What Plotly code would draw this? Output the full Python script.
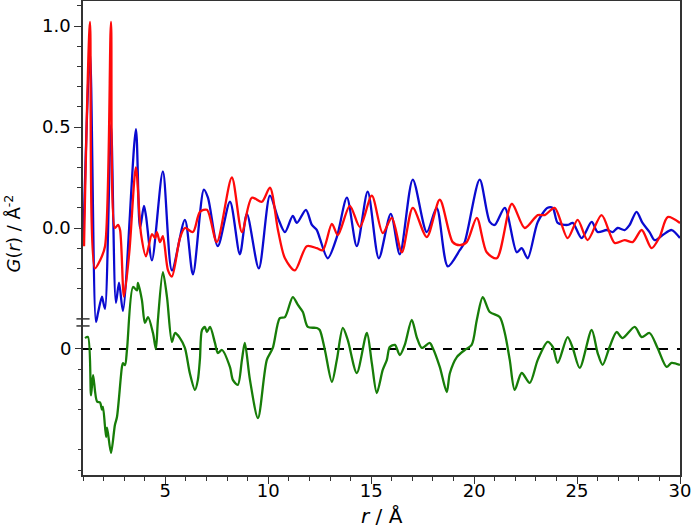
import plotly.graph_objects as go

# Upper panel: two G(r) curves (red, blue), lower panel: difference (green)
r_red = [1.05, 1.34, 1.58, 1.83, 2.07, 2.36, 2.55, 2.70, 2.80, 2.99, 3.25, 3.57,
         3.82, 4.06, 4.35, 4.50, 4.59, 4.74, 4.88, 5.13, 5.32, 5.71, 5.95, 6.34,
         6.68, 7.02, 7.50, 8.23, 8.72, 9.20, 9.69, 10.08, 10.47, 10.81, 11.29,
         11.87, 12.36, 12.65, 13.09, 13.38, 13.96, 14.45, 15.03, 15.56, 16.00,
         16.49, 17.02, 17.70, 18.33, 18.96, 19.30, 19.64, 20.13, 20.61, 21.10,
         21.83, 22.46, 23.09, 23.43, 23.91, 24.54, 25.03, 25.51, 26.19, 26.83,
         27.31, 27.70, 28.14, 28.62, 29.01, 29.40, 30.00]
g_red = [-0.09, 1.02, -0.20, -0.16, -0.09, 1.02, 0.00, 0.015, -0.01, -0.34, -0.12, 0.30,
         -0.03, -0.14, -0.03, -0.05, -0.02, -0.07, -0.04, -0.21, -0.24, -0.05, 0.00, -0.02,
         0.08, 0.09, -0.07, 0.25, -0.02, 0.15, 0.13, 0.20, -0.01, -0.15, -0.21,
         -0.09, -0.10, -0.11, 0.02, -0.035, 0.11, 0.005, 0.16, -0.025, 0.05,
         -0.12, 0.10, -0.045, 0.14, -0.07, -0.085, -0.07, 0.05, -0.12, -0.15,
         0.12, 0.00, 0.064, 0.064, 0.10, -0.05, 0.04, -0.06, 0.064, -0.074,
         -0.06, -0.07, -0.01, -0.10, -0.045, 0.054, 0.025]

r_blue = [1.02, 1.34, 1.63, 1.73, 1.92, 1.97, 2.07, 2.36, 2.60, 2.75, 2.94, 3.57,
          3.77, 3.96, 4.06, 4.35, 4.88, 5.32, 5.95, 6.34, 6.87, 7.07, 7.55, 8.14,
          8.62, 8.96, 9.54, 10.08, 10.47, 10.81, 11.19, 11.39, 11.83, 12.12, 12.36,
          12.50, 12.89, 13.33, 13.82, 14.30, 14.83, 15.37, 15.95, 16.39, 17.02,
          17.70, 18.18, 18.72, 19.30, 19.54, 20.27, 20.76, 21.00, 21.49, 22.07,
          22.31, 22.60, 23.09, 23.57, 23.82, 24.06, 24.54, 24.79, 25.22, 25.71,
          26.00, 26.44, 26.73, 26.97, 27.31, 27.55, 27.89, 28.18, 28.52, 28.77,
          29.16, 29.59, 30.00]
g_blue = [-0.05, 0.87, -0.465, -0.42, -0.34, -0.36, -0.40, 0.51, -0.37, -0.27, -0.41, 0.49,
          0.00, 0.11, 0.06, -0.16, 0.28, -0.21, 0.04, -0.23, 0.19, 0.15, -0.09, 0.13,
          -0.13, 0.07, -0.20, 0.16, 0.05, -0.02, 0.06, 0.025, 0.09, 0.015, -0.01,
          -0.05, -0.15, -0.045, 0.15, -0.09, 0.18, -0.15, 0.07, -0.13, 0.24,
          -0.02, 0.10, -0.19, -0.11, -0.07, 0.24, 0.03, 0.015, 0.10, -0.12,
          -0.10, -0.15, 0.03, 0.10, 0.099, 0.025, 0.015, 0.025, -0.05, 0.03,
          -0.02, -0.01, -0.02, 0.00, -0.01, 0.015, 0.08, 0.025, -0.02, -0.06,
          -0.035, -0.01, -0.05]

r_diff = [1.10, 1.24, 1.39, 1.49, 1.68, 1.83, 1.92, 1.97, 2.12, 2.17, 2.36, 2.55,
          2.65, 2.89, 2.94, 3.04, 3.14, 3.43, 3.62, 3.67, 3.86, 4.01, 4.16, 4.40,
          4.54, 4.64, 4.88, 5.08, 5.32, 5.47, 5.71, 5.95, 6.19, 6.44, 6.58, 6.68,
          6.78, 6.92, 7.02, 7.17, 7.41, 7.55, 7.75, 8.14, 8.28, 8.52, 8.72, 8.86,
          9.11, 9.50, 9.93, 10.22, 10.56, 10.81, 11.19, 11.44, 11.68, 11.92, 12.36,
          12.50, 12.75, 13.09, 13.33, 13.62, 13.86, 14.30, 14.79, 15.03, 15.27,
          15.56, 15.76, 15.90, 16.15, 16.39, 16.63, 16.97, 17.21, 17.46, 17.84,
          17.99, 18.33, 18.67, 18.82, 19.16, 19.54, 19.88, 20.13, 20.42, 20.76,
          21.24, 21.49, 21.73, 21.97, 22.31, 22.70, 23.09, 23.57, 23.82, 24.06,
          24.54, 24.79, 25.13, 25.71, 26.00, 26.24, 26.58, 26.92, 27.21, 27.80,
          28.14, 28.52, 28.91, 29.35, 29.59, 30.00]
g_diff = [0.054, 0.06, -0.23, -0.13, -0.26, -0.265, -0.30, -0.287, -0.436, -0.39, -0.515, -0.376,
          -0.337, -0.09, -0.07, -0.08, 0.00, 0.307, 0.29, 0.327, 0.243, 0.129, 0.158, 0.079,
          0.00, 0.144, 0.381, 0.257, 0.035, 0.079, 0.054, 0.005, -0.12, -0.203, -0.153, -0.05,
          0.094, 0.109, 0.084, 0.109, 0.03, -0.02, -0.005, -0.09, -0.153, -0.178, -0.054, 0.03,
          -0.153, -0.342, -0.054, 0.005, 0.153, 0.158, 0.257, 0.218, 0.183, 0.109, 0.104,
          0.094, -0.005, -0.163, -0.054, 0.104, 0.045, -0.119, 0.079, -0.07, -0.218,
          -0.104, -0.054, 0.01, 0.02, -0.03, 0.02, 0.144, 0.059, 0.005, 0.03,
          0.005, -0.089, -0.213, -0.12, -0.04, -0.005, 0.02, 0.144, 0.257, 0.183,
          0.158, 0.079, -0.054, -0.203, -0.119, -0.168, -0.054, 0.035, 0.01, -0.069,
          0.059, 0.005, -0.094, 0.094, -0.02, -0.079, 0.01, 0.084, 0.054, 0.109,
          0.059, 0.079, 0.005, -0.089, -0.069, -0.079]

x_major = [5, 10, 15, 20, 25, 30]
x_minor = [v for v in range(1, 31) if v % 5 != 0]
upper_major = [0.0, 0.5, 1.0]
upper_labels = ["0.0", "0.5", "1.0"]
upper_minor = [-0.3, -0.2, -0.1, 0.1, 0.2, 0.3, 0.4, 0.6, 0.7, 0.8, 0.9, 1.1]
lower_major = [0.0]
lower_labels = ["0"]
lower_major_unlabelled = [-0.4]
lower_minor = [-0.1, -0.2, -0.3, -0.5, -0.6]

FONT = "DejaVu Sans"
AXIS_COLOR = "#333333"
UPPER_RANGE = [-1.223, 1.124]
LOWER_RANGE = [-0.624, 1.723]
LW = 2.3

fig = go.Figure()

fig.add_trace(go.Scatter(x=r_blue, y=g_blue, mode="lines", name="blue",
                         line=dict(color="#0a0ad0", width=LW, shape="spline", smoothing=0.8)))
fig.add_trace(go.Scatter(x=r_red, y=g_red, mode="lines", name="red",
                         line=dict(color="#ff0a0a", width=LW, shape="spline", smoothing=0.8)))
fig.add_trace(go.Scatter(x=r_diff, y=g_diff, mode="lines", name="diff", yaxis="y2",
                         line=dict(color="#177d08", width=LW, shape="spline", smoothing=0.8)))

# zero line of the difference curve
fig.add_shape(type="line", xref="x domain", x0=0, x1=1, yref="y2", y0=0, y1=0,
              line=dict(color="black", width=2, dash="dash"), layer="below")

# axis break mark on the left spine
for yb in [-0.45, -0.485]:
    fig.add_shape(type="line", xref="paper", x0=-0.011, x1=0.011, yref="y", y0=yb, y1=yb,
                  line=dict(color=AXIS_COLOR, width=1.5))

tick_font = dict(family=FONT, size=18, color="black")
minor_style = dict(ticks="outside", ticklen=4, tickwidth=1, tickcolor=AXIS_COLOR)

fig.update_layout(
    width=692, height=527,
    margin=dict(l=83, r=12, t=1, b=52, autoexpand=False),
    plot_bgcolor="white", paper_bgcolor="white",
    showlegend=False,
    font=dict(family=FONT, color="black"),
    xaxis=dict(
        range=[1, 30], tickvals=x_major, ticks="outside", ticklen=7, tickwidth=1.2,
        tickcolor=AXIS_COLOR, tickfont=tick_font, automargin=False, ticklabelstandoff=-8,
        minor=dict(tickvals=x_minor, **minor_style),
        showgrid=False, zeroline=False, showline=True, linecolor=AXIS_COLOR, linewidth=1.5,
        mirror=True,
    ),
    yaxis=dict(
        range=UPPER_RANGE, tickvals=upper_major, ticktext=upper_labels,
        ticks="outside", ticklen=7, tickwidth=1.2, tickcolor=AXIS_COLOR, tickfont=tick_font,
        minor=dict(tickvals=upper_minor, **minor_style), automargin=False,
        showgrid=False, zeroline=False, showline=True, linecolor=AXIS_COLOR, linewidth=1.5,
        mirror=True,
    ),
    yaxis2=dict(
        range=LOWER_RANGE, overlaying="y", side="left", tickvals=lower_major,
        ticktext=lower_labels, ticks="outside", ticklen=7, tickwidth=1.2, tickcolor=AXIS_COLOR,
        tickfont=tick_font, automargin=False,
        minor=dict(tickvals=lower_minor, **minor_style),
        showgrid=False, zeroline=False, showline=False,
    ),
    # extra overlay only for the unlabelled major tick of the lower part
    yaxis3=dict(
        range=LOWER_RANGE, overlaying="y", side="left", tickvals=lower_major_unlabelled,
        showticklabels=False, ticks="outside", ticklen=7, tickwidth=1.2, tickcolor=AXIS_COLOR,
        automargin=False, showgrid=False, zeroline=False, showline=False,
    ),
)

fig.add_annotation(
    text="<i>r</i> / Å", xref="paper", yref="paper", x=0.5, y=-0.087,
    xanchor="center", yanchor="middle", showarrow=False,
    font=dict(family=FONT, size=20, color="black"),
)
fig.add_annotation(
    text="<i>G</i>(<i>r</i>) / Å<sup>-2</sup>", textangle=-90,
    xref="paper", yref="paper", x=-0.117, y=0.51, xanchor="center", yanchor="middle",
    showarrow=False, font=dict(family=FONT, size=18, color="black"),
)

# the page's default body margin would shift the whole figure by 8px
fig.write_html("out.html", config={"displayModeBar": False},
               post_script="document.body.style.margin='0px';")
